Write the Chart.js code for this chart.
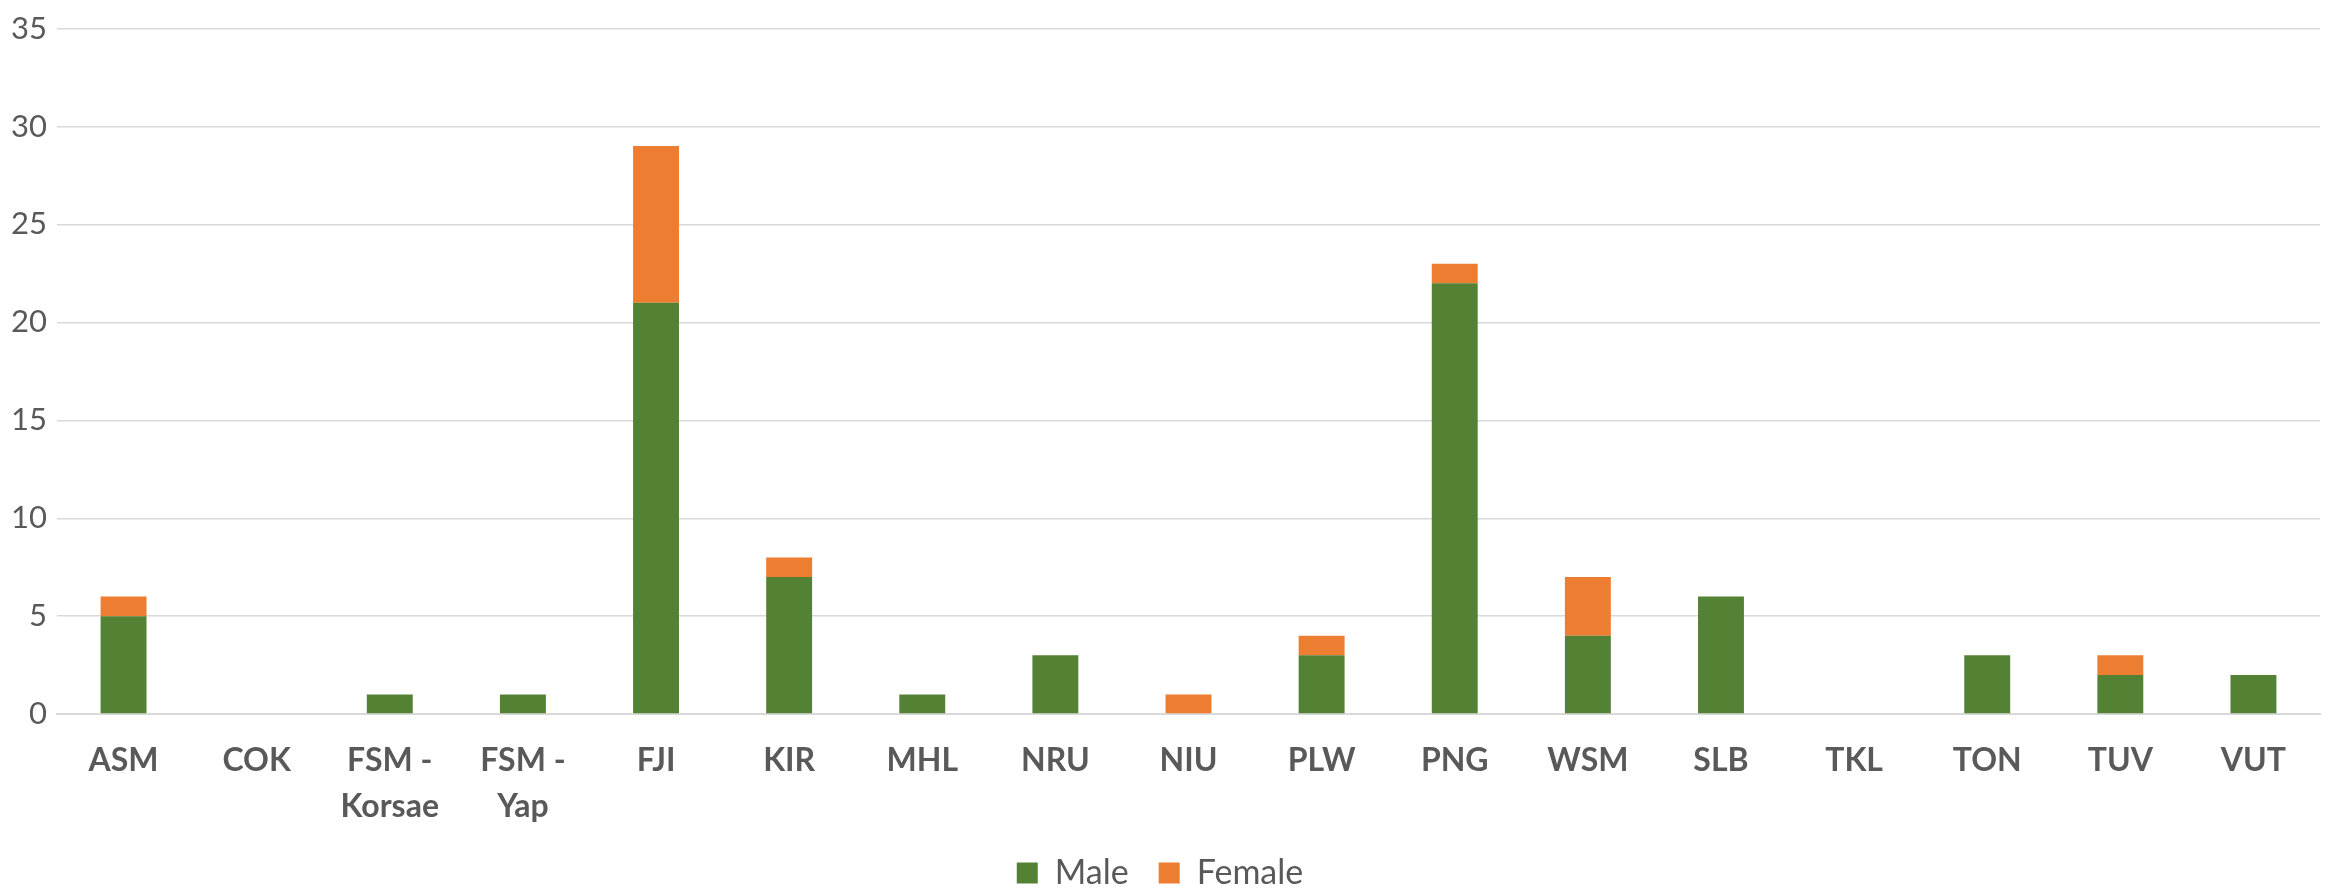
<!DOCTYPE html>
<html>
<head>
<meta charset="utf-8">
<script src="https://cdn.jsdelivr.net/npm/chart.js@4/dist/chart.umd.min.js"></script>
<style>
  html, body { margin: 0; padding: 0; background: #fff; }
  #wrap { width: 2329px; height: 893px; }
</style>
</head>
<body>
<div id="wrap"><canvas id="grafico"></canvas></div>
<script>
// datos
const paises = ['ASM', 'COK', ['FSM -', 'Korsae'], ['FSM -', 'Yap'], 'FJI', 'KIR', 'MHL', 'NRU', 'NIU', 'PLW', 'PNG', 'WSM', 'SLB', 'TKL', 'TON', 'TUV', 'VUT'];
const hombres = [5, 0, 1, 1, 21, 7, 1, 3, 0, 3, 22, 4, 6, 0, 3, 2, 2];
const mujeres = [1, 0, 0, 0, 8, 1, 0, 0, 1, 1, 1, 3, 0, 0, 0, 1, 0];
const marcasY = [0, 5, 10, 15, 20, 25, 30, 35];

const gris = '#595959';
const fuente = 'Lato, Carlito, Calibri, sans-serif';
const fuenteEstrecha = '"Liberation Sans Narrow", Lato, sans-serif';

// la leyenda necesita mas espacio entre items sin robar alto al grafico
const ajusteLeyenda = {
    id: 'ajusteLeyenda',
    afterInit(chart) {
        const lg = chart.legend;
        const fitOriginal = lg.fit.bind(lg);
        lg.fit = function () {
            fitOriginal();
            this.height = 48;
        };
    },
    afterLayout(chart) {
        chart.legend.top -= 19;
        chart.legend.bottom = chart.height;
    }
};

new Chart(document.getElementById('grafico'), {
    type: 'bar',
    data: {
        labels: paises,
        datasets: [
            { label: 'Male', data: hombres, backgroundColor: '#548235', barPercentage: 0.345, categoryPercentage: 1 },
            { label: 'Female', data: mujeres, backgroundColor: '#ED7D31', barPercentage: 0.345, categoryPercentage: 1 }
        ]
    },
    options: {
        responsive: true,
        maintainAspectRatio: false,
        animation: false,
        layout: { padding: { top: 14, right: 9, left: 0, bottom: 0 } },
        plugins: {
            tooltip: { enabled: false },
            legend: {
                position: 'bottom',
                labels: {
                    color: gris,
                    font: { family: fuente, size: 34 },
                    boxWidth: 21,
                    boxHeight: 21,
                    padding: 30
                }
            }
        },
        scales: {
            x: {
                stacked: true,
                grid: { display: false },
                border: { color: '#D9D9D9', width: 2 },
                ticks: {
                    color: gris,
                    font: { family: fuenteEstrecha, size: 32, weight: 'bold', lineHeight: 1.42 },
                    maxRotation: 0,
                    autoSkip: false,
                    padding: 16
                }
            },
            y: {
                stacked: true,
                min: 0,
                max: 35,
                afterBuildTicks: (scale) => { scale.ticks = marcasY.map(v => ({ value: v })); },
                afterFit: (scale) => { scale.width = 57; },
                grid: { color: '#D9D9D9', lineWidth: 1.5, drawTicks: false },
                border: { display: false },
                ticks: {
                    color: gris,
                    font: { family: fuente, size: 31 },
                    padding: 10
                }
            }
        }
    },
    plugins: [ajusteLeyenda]
});
</script>
</body>
</html>
